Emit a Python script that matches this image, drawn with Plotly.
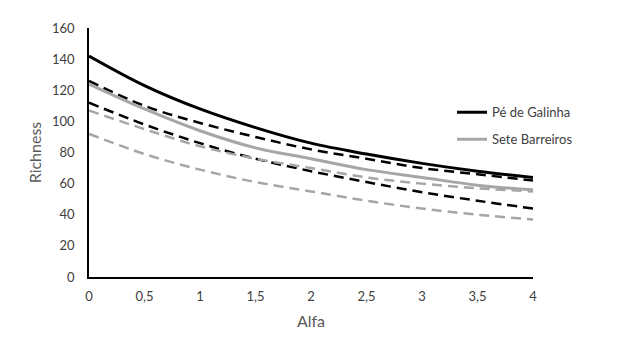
import plotly.graph_objects as go

alfa = [0, 0.5, 1, 1.5, 2, 2.5, 3, 3.5, 4]

pe_galinha = [142, 123, 108, 96, 86, 79, 73, 68, 64]
pe_galinha_upper = [126, 110, 99, 90, 82, 76, 70, 66, 62]
pe_galinha_lower = [112, 98, 86, 76, 68, 61, 54.5, 49, 44]

sete_barreiros = [124, 108, 94, 83, 76, 69, 64, 59, 56]
sete_barreiros_upper = [107, 95, 84, 76, 70, 64, 60, 57, 55]
sete_barreiros_lower = [92, 79, 69, 61, 55, 49, 44, 40, 37]

x_ticks = [0, 0.5, 1, 1.5, 2, 2.5, 3, 3.5, 4]
x_tick_labels = ["0", "0,5", "1", "1,5", "2", "2,5", "3", "3,5", "4"]
y_ticks = [0, 20, 40, 60, 80, 100, 120, 140, 160]

BLACK = "#000000"
GRAY = "#A6A6A6"
DASH = "10px,6px"

fig = go.Figure()
# dashed confidence curves (no legend)
for vals, col in [(pe_galinha_upper, BLACK), (pe_galinha_lower, BLACK),
                  (sete_barreiros_upper, GRAY), (sete_barreiros_lower, GRAY)]:
    fig.add_trace(go.Scatter(x=alfa, y=vals, mode="lines", showlegend=False,
                             line=dict(color=col, width=2.5, dash=DASH, shape="spline"),
                             hoverinfo="skip"))
fig.add_trace(go.Scatter(x=alfa, y=pe_galinha, mode="lines", name="Pé de Galinha",
                         legendgroup="a",
                         line=dict(color=BLACK, width=3, shape="spline")))
fig.add_trace(go.Scatter(x=alfa, y=sete_barreiros, mode="lines", name="Sete Barreiros",
                         legendgroup="b",
                         line=dict(color=GRAY, width=3, shape="spline")))

fig.update_layout(
    width=612, height=342,
    margin=dict(l=81, r=87, t=16, b=73, pad=0),
    paper_bgcolor="white",
    plot_bgcolor="white",
    font=dict(family="Lato, 'Open Sans', sans-serif", size=13, color="#404040"),
    showlegend=True,
    legend=dict(x=0.8176, y=0.607, xanchor="left", yanchor="middle",
                bgcolor="rgba(0,0,0,0)", font=dict(size=13, color="#404040"),
                tracegroupgap=7, itemwidth=30),
)
fig.update_xaxes(
    range=[0, 4], tickvals=x_ticks, ticktext=x_tick_labels,
    showgrid=False, zeroline=False, showline=True, linecolor="black", linewidth=1.5,
    ticks="outside", ticklen=7, tickcolor="rgba(0,0,0,0)",
    tickfont=dict(size=13, color="#404040"),
    title=dict(text="Alfa", font=dict(size=16, color="#595959"), standoff=12),
)
fig.update_yaxes(
    range=[0, 160], tickvals=y_ticks,
    showgrid=False, zeroline=False, showline=True, linecolor="black", linewidth=1.5,
    ticks="outside", ticklen=10, tickcolor="rgba(0,0,0,0)",
    tickfont=dict(size=13, color="#404040"),
    title=dict(text="Richness", font=dict(size=16, color="#595959"), standoff=6),
)

fig.write_html("out.html")
